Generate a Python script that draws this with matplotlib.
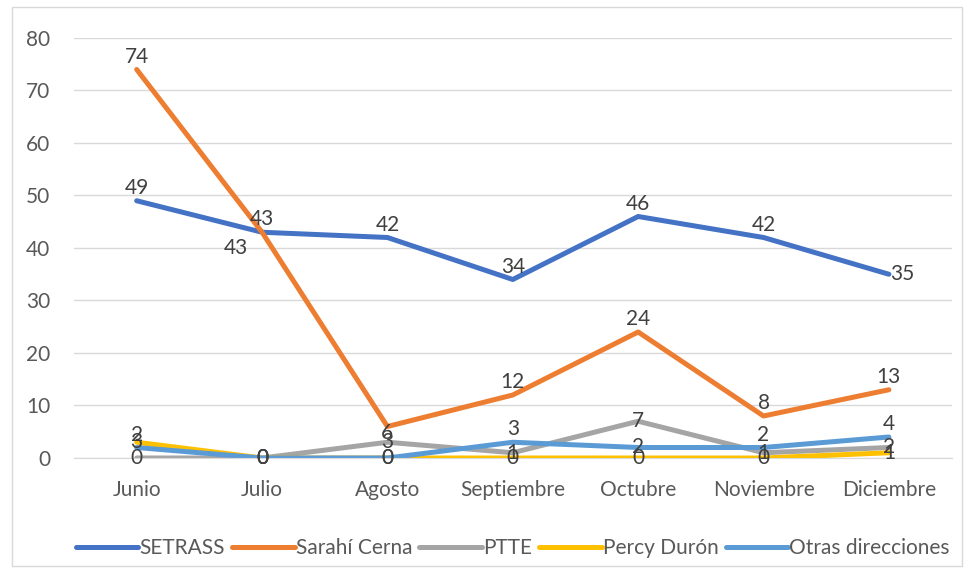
import matplotlib
matplotlib.use("Agg")
from matplotlib import pyplot as plt
from matplotlib.patches import Rectangle

# data
months = ["Junio", "Julio", "Agosto", "Septiembre", "Octubre", "Noviembre", "Diciembre"]
setrass = [49, 43, 42, 34, 46, 42, 35]
sarahi = [74, 43, 6, 12, 24, 8, 13]
ptte = [0, 0, 3, 1, 7, 1, 2]
percy = [3, 0, 0, 0, 0, 0, 1]
otras = [2, 0, 0, 3, 2, 2, 4]
series_names = ["SETRASS", "Sarahí Cerna", "PTTE", "Percy Durón", "Otras direcciones"]

plt.rcParams["font.family"] = ["Lato", "DejaVu Sans"]

fig = plt.figure(figsize=(9.7, 5.73), dpi=100)
fig.patches.append(Rectangle((12 / 970, 7 / 573), 950 / 970, 559 / 573, transform=fig.transFigure,
                             fill=False, edgecolor="#d9d9d9", linewidth=1))
ax = fig.add_axes([0.0763, 0.2007, 0.9047, 0.733])

colors = ["#4472C4", "#ED7D31", "#A5A5A5", "#FFC000", "#5B9BD5"]
all_series = [setrass, sarahi, ptte, percy, otras]
x = list(range(len(months)))

for vals, name, col in zip(all_series, series_names, colors):
    ax.plot(x, vals, color=col, linewidth=3.6, label=name, solid_capstyle="round", solid_joinstyle="round")

# label placement: above for most, centered on the point for the small series,
# plus a few exceptions like the original
centered = ((0, 0), "center", "center")
special = {(0, 6): ((1, 0), "left", "center"),
           (1, 1): ((-10, -4), "right", "top"),
           (1, 2): ((0, -5), "center", "center"),
           (4, 1): centered, (4, 2): centered, (4, 4): centered}
for si, vals in enumerate(all_series):
    default = centered if si in (2, 3) else ((0, 2), "center", "bottom")
    for i, v in enumerate(vals):
        off, ha, va = special.get((si, i), default)
        ax.annotate(str(v), (i, v), xytext=off, textcoords="offset points",
                    ha=ha, va=va, fontsize=15, color="#404040", zorder=5)

ax.set_xlim(-0.5, 6.5)
ax.set_ylim(0, 80)
ax.set_yticks(range(0, 81, 10))
ax.set_xticks(x)
ax.set_xticklabels(months)
ax.tick_params(axis="both", length=0, labelsize=15, labelcolor="#595959")
ax.tick_params(axis="y", pad=17)
ax.tick_params(axis="x", pad=16)
ax.grid(axis="y", color="#d9d9d9", linewidth=1)
ax.set_axisbelow(True)
for s in ["top", "right", "left"]:
    ax.spines[s].set_visible(False)
ax.spines["bottom"].set_color("#d9d9d9")

ax.legend(loc="center", bbox_to_anchor=(0.5, -0.215), ncol=5, frameon=False, fontsize=15,
          handlelength=3.0, handletextpad=0.05, columnspacing=0.35, labelcolor="#595959")

plt.savefig("out.png", dpi=100)
